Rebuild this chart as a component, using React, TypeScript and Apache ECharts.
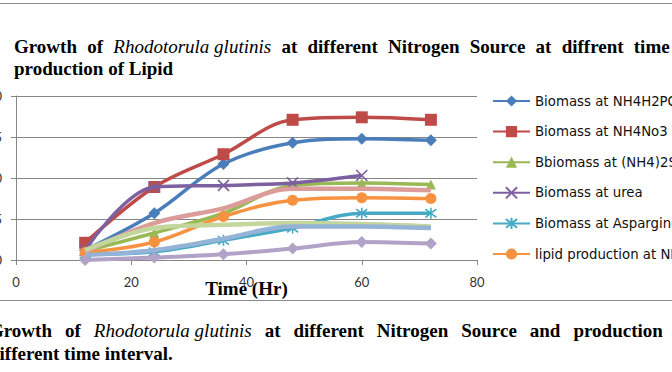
import React, { useEffect, useRef } from "react";
import * as echarts from "echarts";

// ---- data ----
const timeHours = [12, 24, 36, 48, 60, 72];
const xTicks = [0, 20, 40, 60, 80];
const yTicks = [0, 5, 10, 15, 20];

const biomassNH4H2PO4 = [1.2, 5.7, 11.7, 14.3, 14.8, 14.6];
const biomassNH4NO3 = [2.1, 8.9, 12.9, 17.1, 17.4, 17.1];
const biomassNH42SO4 = [1.1, 3.3, 5.7, 9.1, 9.4, 9.2];
const biomassUrea = [1.2, 8.9, 9.1, 9.4, 10.3, null];
const biomassAspargine = [0.7, 1.0, 2.4, 3.9, 5.7, 5.7];
const lipidNH4H2PO4 = [0.9, 2.2, 5.3, 7.3, 7.6, 7.5];
const lipidNH4NO3 = [1.0, 4.5, 6.3, 8.7, 8.7, 8.5];
const lipidNH42SO4 = [1.2, 3.9, 4.3, 4.5, 4.4, 4.1];
const lipidAspargine = [0.6, 1.2, 2.6, 4.1, 4.1, 3.9];
const lipidUrea = [0.0, 0.3, 0.7, 1.4, 2.2, 2.0];

const seriesNames = [
  "Biomass at NH4H2PO4",
  "Biomass at NH4No3",
  "Bbiomass at (NH4)2SO4",
  "Biomass at urea",
  "Biomass at Aspargine",
  "lipid production at NH4H2PO4",
  "lipid production at NH4No3",
  "lipid production at (NH4)2SO4",
  "lipid production at Aspargine",
  "lipid production at urea",
];
const seriesValues = [
  biomassNH4H2PO4,
  biomassNH4NO3,
  biomassNH42SO4,
  biomassUrea,
  biomassAspargine,
  lipidNH4H2PO4,
  lipidNH4NO3,
  lipidNH42SO4,
  lipidAspargine,
  lipidUrea,
];
const legendCount = 6;

// text pieces: [style, text]
const titleLine1: [string, string][] = [
  ["b", "Growth"], ["b", "of"], ["i", "Rhodotorula glutinis"], ["b", "at"], ["b", "different"],
  ["b", "Nitrogen"], ["b", "Source"], ["b", "at"], ["b", "diffrent"], ["b", "time"],
];
const titleLine2 = "production of Lipid";
const captionLine1: [string, string][] = [
  ["b", "Growth"], ["b", "of"], ["i", "Rhodotorula glutinis"], ["b", "at"], ["b", "different"],
  ["b", "Nitrogen"], ["b", "Source"], ["b", "and"], ["b", "production"], ["b", "of"], ["b", "Lipid"],
];
const captionLine2 = "different time interval.";

const SERIF = '"Liberation Serif", "Times New Roman", serif';
const SANS = 'Lato, "Open Sans", sans-serif';
const LEGEND_FONT = '"DejaVu Sans", "Open Sans", sans-serif';

const XMARK = "path://M0 0L10 10M10 0L0 10";
const ASTER = "path://M0 0L10 10M10 0L0 10M5 -1.5L5 11.5";

const styles = [
  { color: "#4A7EBB", symbol: "diamond", size: 12, width: 3.5 },
  { color: "#BE4B48", symbol: "rect", size: 12, width: 3.5 },
  { color: "#98B954", symbol: "triangle", size: 10, width: 3.5 },
  { color: "#7D60A0", symbol: XMARK, size: 11, width: 3.5 },
  { color: "#46AAC5", symbol: ASTER, size: 11, width: 3.5 },
  { color: "#F69240", symbol: "circle", size: 11, width: 3.5 },
  { color: "#DC9C9A", symbol: "none", size: 0, width: 4.5 },
  { color: "#C3D69B", symbol: "none", size: 0, width: 4.5 },
  { color: "#95B3D7", symbol: "none", size: 0, width: 4.5 },
  { color: "#B3A2C7", symbol: "diamond", size: 12, width: 4 },
];

const joinRich = (parts: [string, string][]) =>
  parts.map(([s, t]) => `{${s}|${t}}`).join("{s|  }");

const richStyles = (lh: number, spaceSize: number) => ({
  b: { fontFamily: SERIF, fontWeight: "bold", fontSize: 19, lineHeight: lh, fill: "#000" },
  i: { fontFamily: SERIF, fontStyle: "italic", fontSize: 19, lineHeight: lh, fill: "#000" },
  s: { fontFamily: SERIF, fontWeight: "bold", fontSize: spaceSize, lineHeight: lh, fill: "#000" },
});

export default function App() {
  const ref = useRef<HTMLDivElement>(null);
  useEffect(() => {
    if (!ref.current) return;
    const chart = echarts.init(ref.current, undefined, { renderer: "svg" });
    const series = seriesNames.map((name, i) => {
      const st = styles[i];
      const isPath = st.symbol.startsWith("path://");
      return {
        name,
        type: "line",
        smooth: 0.35,
        data: timeHours.map((t, j) => [t, seriesValues[i][j]]),
        symbol: st.symbol,
        symbolSize: st.size,
        showSymbol: st.symbol !== "none",
        lineStyle: { color: st.color, width: st.width },
        itemStyle: {
          color: st.color,
          borderColor: st.color,
          borderWidth: isPath ? 1.6 : 0,
        },
        emphasis: { disabled: true },
        z: 2 + i,
      };
    });
    chart.setOption({
      animation: false,
      backgroundColor: "#ffffff",
      grid: {
        left: 16,
        top: 96,
        right: 195,
        bottom: 112,
        containLabel: false,
        outerBoundsMode: "none",
      },
      xAxis: {
        type: "value",
        min: xTicks[0],
        max: xTicks[xTicks.length - 1],
        interval: xTicks[1] - xTicks[0],
        name: "Time (Hr)",
        nameLocation: "middle",
        nameGap: 19,
        nameMoveOverlap: false,
        nameTextStyle: {
          fontFamily: SERIF,
          fontWeight: "bold",
          fontSize: 19,
          color: "#000",
        },
        axisLine: { lineStyle: { color: "#868686", width: 1 } },
        axisTick: { show: true, length: 5, lineStyle: { color: "#868686" } },
        splitLine: { show: false },
        axisLabel: { margin: 15, fontFamily: SANS, fontSize: 13, color: "#333" },
      },
      yAxis: {
        type: "value",
        min: yTicks[0],
        max: yTicks[yTicks.length - 1],
        interval: yTicks[1] - yTicks[0],
        axisLine: { show: true, lineStyle: { color: "#868686", width: 1 } },
        axisTick: { show: true, length: 5, lineStyle: { color: "#868686" } },
        splitLine: { lineStyle: { color: "#868686", width: 1 } },
        axisLabel: { margin: 14, fontFamily: SANS, fontSize: 13, color: "#333" },
      },
      legend: {
        data: seriesNames.slice(0, legendCount),
        orient: "vertical",
        left: 487,
        top: 89,
        itemWidth: 37,
        itemHeight: 14,
        itemGap: 16.6,
        textStyle: { fontFamily: LEGEND_FONT, fontSize: 13.3, color: "#111", lineHeight: 14 },
        selectedMode: false,
      },
      graphic: [
        {
          type: "line",
          shape: { x1: 0, y1: 3.5, x2: 672, y2: 3.5 },
          style: { stroke: "#8a8a8a", lineWidth: 1 },
        },
        {
          type: "line",
          shape: { x1: 0, y1: 300.5, x2: 672, y2: 300.5 },
          style: { stroke: "#8a8a8a", lineWidth: 1 },
        },
        {
          type: "text",
          x: 14,
          y: 35.6,
          style: {
            text: joinRich(titleLine1) + "\n{b|" + titleLine2 + "}",
            verticalAlign: "top",
            align: "left",
            rich: richStyles(22, 20.5),
            fontFamily: SERIF,
            fontWeight: "bold",
            fontSize: 19,
            lineHeight: 22,
          },
        },
        {
          type: "text",
          x: -11,
          y: 319,
          style: {
            text: joinRich(captionLine1) + "\n{b|" + captionLine2 + "}",
            verticalAlign: "top",
            align: "left",
            rich: richStyles(23, 26),
            fontFamily: SERIF,
            fontWeight: "bold",
            fontSize: 19,
            lineHeight: 23,
          },
        },
      ],
      series,
    });
    return () => chart.dispose();
  }, []);
  return (
    <div
      ref={ref}
      style={{ position: "absolute", left: 0, top: 0, width: 672, height: 372, background: "#fff" }}
    />
  );
}
